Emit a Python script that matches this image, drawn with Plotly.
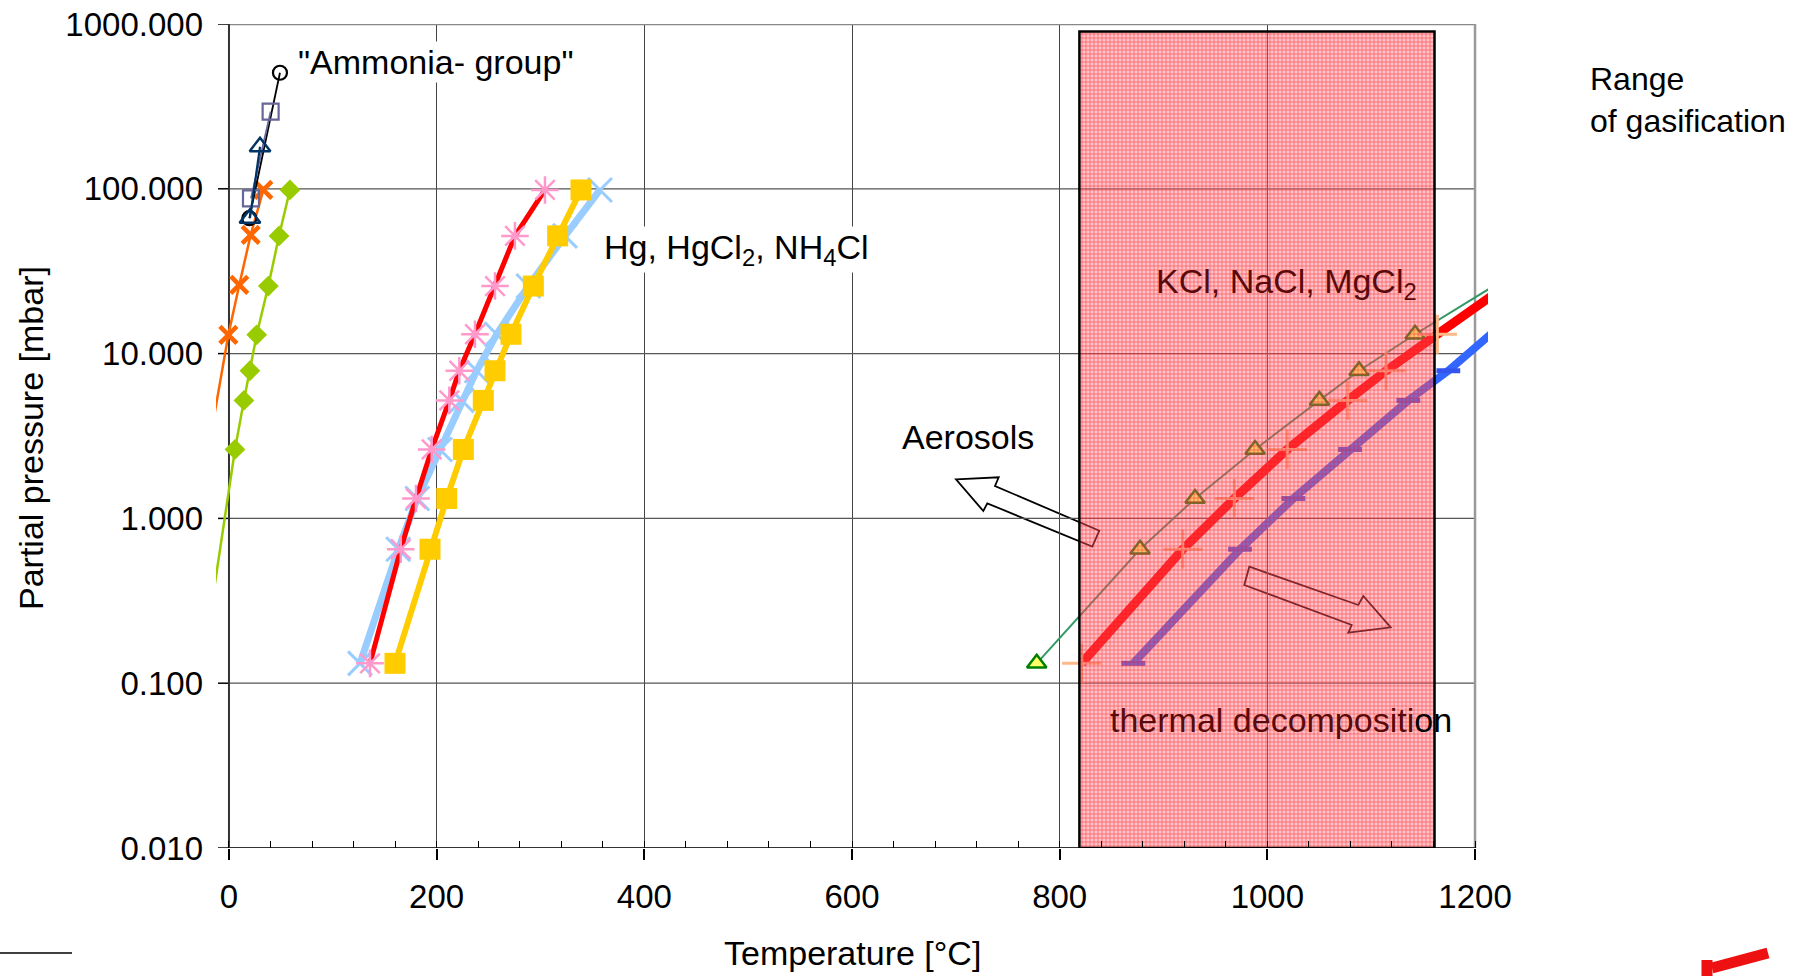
import plotly.graph_objects as go

# ---------------- data (temperature in °C, partial pressure in mbar) ----------------
# "Ammonia- group"
amm_circle_T = [19.6, 49.1]
amm_circle_P = [66.3, 506]
amm_square_T = [21.2, 40.1]
amm_square_P = [87.5, 294]
amm_tri_T = [20.2, 29.9]
amm_tri_P = [66.3, 180]
amm_orange_T = [-24.0, -0.6, 9.9, 20.9, 33.1]
amm_orange_P = [1.87, 13.0, 26.1, 52.5, 98.4]
amm_green_T = [-26.0, 5.8, 14.4, 20.2, 26.7, 37.9, 48.2, 58.7]
amm_green_P = [0.12, 2.62, 5.2, 7.87, 13.0, 25.7, 51.8, 98.4]

# Hg, HgCl2, NH4Cl
hg_P = [0.132, 0.65, 1.32, 2.62, 5.2, 7.87, 13.1, 25.7, 51.8, 98.4]
hg_red_T = [135.8, 165.4, 180.1, 195.2, 212.2, 221.8, 236.9, 256.2, 275.4, 304.3]
hg_blue_T = [126.2, 163.0, 181.4, 203.2, 224.1, 238.5, 257.8, 288.3, 323.6, 357.3]
hg_gold_T = [159.9, 193.6, 209.7, 225.7, 244.9, 256.2, 271.6, 293.1, 316.5, 339.0]

# KCl, NaCl, MgCl2
salt_green_T = [777.9, 877.4, 930.4, 988.2, 1050.1, 1088.3, 1142.3, 1240.0]
salt_green_P = [0.132, 0.65, 1.32, 2.62, 5.2, 7.87, 13.1, 31.3]
salt_red_T = [821.2, 918.5, 968.2, 1019.2, 1077.4, 1114.3, 1163.7, 1245.0]
salt_red_P = [0.132, 0.65, 1.32, 2.62, 5.2, 7.87, 13.1, 30.2]
salt_blue_T = [870.9, 973.7, 1025.0, 1079.6, 1135.8, 1174.3, 1235.0]
salt_blue_P = [0.132, 0.65, 1.32, 2.62, 5.2, 7.87, 16.8]

# range of gasification
gasif_T = [819, 1161]
gasif_P = [0.01, 900]

x_ticks = [0, 200, 400, 600, 800, 1000, 1200]
y_ticks = [0.01, 0.1, 1, 10, 100, 1000]

# ---------------- layout geometry ----------------
W, H = 1804, 976
L, R, T, B = 216, 1488, 24, 848
XMIN, XMAX = -12.5, 1212.5


def pp(px, py):
    """pixel -> paper coordinates"""
    return (px - L) / (R - L), (B - py) / (B - T)


def path(points):
    s = ""
    for i, (px, py) in enumerate(points):
        x, y = pp(px, py)
        s += ("M" if i == 0 else "L") + f"{x:.5f},{y:.5f} "
    return s + "Z"


FONT = "Liberation Sans, Arial, sans-serif"

fig = go.Figure()


def add(x, y, color, lw, symbol, msize, mcolor=None, mlw=0, mfill=None):
    mcolor = mcolor or color
    marker = dict(symbol=symbol, size=msize, color=mfill if mfill else mcolor,
                  line=dict(color=mcolor, width=mlw))
    fig.add_trace(go.Scatter(x=x, y=y, mode="lines+markers",
                             line=dict(color=color, width=lw),
                             marker=marker, showlegend=False, hoverinfo="skip"))


# ammonia group
add(amm_green_T, amm_green_P, "#99CC00", 2.5, "diamond", 16)
add(amm_orange_T, amm_orange_P, "#FF6600", 2.5, "x-thin-open", 17, mlw=4.5)
add(amm_circle_T, amm_circle_P, "#000000", 1.8, "circle-open", 14, mlw=2.2)
add(amm_square_T, amm_square_P, "#666699", 1.8, "square-open", 16, mlw=2.2)
add(amm_tri_T, amm_tri_P, "#003366", 2.2, "triangle-up-open", 18, mlw=2.5)

# Hg group
add(hg_blue_T, hg_P, "#99CCFF", 7, "x-thin-open", 24, mlw=3)
add(hg_gold_T, hg_P, "#FFCC00", 6, "square", 21)
add(hg_red_T, hg_P, "#FF0000", 5, "asterisk-open", 23, mcolor="#FF99CC", mlw=2.5)

# salts
add(salt_green_T, salt_green_P, "#339966", 2, "triangle-up", 17, mcolor="#008000", mlw=2.5, mfill="#FFFF66")
add(salt_red_T, salt_red_P, "#FF0000", 9, "cross-thin-open", 28, mcolor="#FFB888", mlw=3)
add(salt_blue_T, salt_blue_P, "#3366FF", 8, "line-ew-open", 17, mcolor="#3355EE", mlw=5)

# range of gasification (hatched, semi-transparent, drawn on top)
fig.add_trace(go.Scatter(
    x=[gasif_T[0], gasif_T[1], gasif_T[1], gasif_T[0], gasif_T[0]],
    y=[gasif_P[0], gasif_P[0], gasif_P[1], gasif_P[1], gasif_P[0]],
    mode="lines", line=dict(color="#000000", width=2.5),
    fill="toself", fillcolor="rgba(248,100,115,0.45)",
    fillpattern=dict(shape="+", size=4, solidity=0.3, fillmode="replace",
                     bgcolor="rgba(248,110,125,0.42)", fgcolor="rgba(255,0,0,0.6)"),
    showlegend=False, hoverinfo="skip"))

shapes = []
# horizontal gridlines and y ticks
for v in y_ticks:
    if 0.01 < v < 1000:
        shapes.append(dict(type="line", xref="x", yref="y", x0=0, x1=1200, y0=v, y1=v,
                           line=dict(color="#555555", width=1.2), layer="between"))
    shapes.append(dict(type="line", xref="x", yref="y", x0=-10.6, x1=0, y0=v, y1=v,
                       line=dict(color="#000000", width=1.5), layer="between"))
# frame
shapes.append(dict(type="line", xref="x", yref="y", x0=0, x1=1200, y0=1000, y1=1000,
                   line=dict(color="#888888", width=2.5), layer="between"))
shapes.append(dict(type="line", xref="x", yref="y", x0=1200, x1=1200, y0=0.01, y1=1000,
                   line=dict(color="#999999", width=2.5), layer="between"))
shapes.append(dict(type="line", xref="x", yref="y", x0=0, x1=1200, y0=0.01, y1=0.01,
                   line=dict(color="#333333", width=2), layer="between"))
shapes.append(dict(type="line", xref="x", yref="y", x0=0, x1=0, y0=0.01, y1=1000,
                   line=dict(color="#333333", width=2), layer="between"))
# white text boxes (under the hatched range)
for (x0, y0, x1, y1) in [(1150, 257, 1425, 317), (1100, 695, 1478, 750)]:
    a0 = pp(x0, y1)
    a1 = pp(x1, y0)
    shapes.append(dict(type="rect", xref="paper", yref="paper", x0=a0[0], y0=a0[1], x1=a1[0], y1=a1[1],
                       fillcolor="white", line=dict(width=0), layer="between"))
# block arrows
aerosol_arrow = [(956, 479.3), (998.7, 477.3), (995, 486), (1099.3, 530.7), (1092.3, 546.7),
                 (987.3, 503.3), (983.3, 511)]
thermal_arrow = [(1249.3, 566.7), (1358.3, 605), (1363.3, 596), (1390.7, 627.3), (1348.3, 632.7),
                 (1351.7, 625), (1244.3, 585)]
for arr in (aerosol_arrow, thermal_arrow):
    shapes.append(dict(type="path", xref="paper", yref="paper", path=path(arr),
                       fillcolor="white", line=dict(color="#000000", width=1.8), layer="between"))
# small decorations outside the chart
a0, a1 = pp(0, 953), pp(72, 953)
shapes.append(dict(type="line", xref="paper", yref="paper", x0=a0[0], y0=a0[1], x1=a1[0], y1=a1[1],
                   line=dict(color="#000000", width=1.5)))
a0, a1 = pp(1707, 960), pp(1707, 980)
shapes.append(dict(type="line", xref="paper", yref="paper", x0=a0[0], y0=a0[1], x1=a1[0], y1=a1[1],
                   line=dict(color="#EE1111", width=11)))
a0, a1 = pp(1712, 968), pp(1768, 953)
shapes.append(dict(type="line", xref="paper", yref="paper", x0=a0[0], y0=a0[1], x1=a1[0], y1=a1[1],
                   line=dict(color="#EE1111", width=11)))

annotations = []


def note(text, px, py, size=34, color="#000000", bg=None, xanchor="left", angle=0):
    x, y = pp(px, py)
    d = dict(text=text, x=x, y=y, xref="paper", yref="paper", showarrow=False,
             xanchor=xanchor, yanchor="middle", textangle=angle, align="left",
             font=dict(family=FONT, size=size, color=color))
    if bg:
        d["bgcolor"] = bg
    annotations.append(d)


note('"Ammonia- group"', 296, 62, bg="white")
note("Hg, HgCl<sub>2</sub>, NH<sub>4</sub>Cl", 602, 249, bg="white")
note("KCl, NaCl, MgCl<sub>2</sub>", 1154, 283, color="#5a0a0a")
note("thermal decompositi<span style='color:#000000'>on</span>", 1108, 720, color="#5a0a0a")
note("Aerosols", 900, 437)
note("Range<br>of gasification", 1588, 100, size=32)
note("Partial pressure [mbar]", 31, 438, xanchor="center", angle=-90)
note("Temperature [°C]", 852, 953, xanchor="center")

fig.update_layout(
    width=W, height=H,
    margin=dict(l=L, r=W - R, t=T, b=H - B, pad=0, autoexpand=False),
    paper_bgcolor="white", plot_bgcolor="white",
    font=dict(family=FONT, size=33, color="#000000"),
    shapes=shapes, annotations=annotations,
    xaxis=dict(range=[XMIN, XMAX], tickvals=x_ticks, ticktext=[str(v) for v in x_ticks],
               automargin=False,
               showgrid=True, gridcolor="#454545", gridwidth=1, zeroline=False, showline=False,
               ticks="outside", ticklen=11, tickwidth=1.5, tickcolor="#000000",
               ticklabelstandoff=8, tickfont=dict(size=33, family=FONT),
               minor=dict(ticks="inside", dtick=40, tick0=0, ticklen=7, tickwidth=1.2,
                          tickcolor="#000000", showgrid=False)),
    yaxis=dict(type="log", range=[-2, 3], tickvals=y_ticks, tickformat=".3f",
               automargin=False,
               showgrid=False, zeroline=False, showline=False, ticks="",
               ticklabelstandoff=12, tickfont=dict(size=33, family=FONT)),
)

post = ("document.body.style.margin='0px';document.body.style.overflow='hidden';"
        "var gd=document.getElementById('{plot_id}');gd.style.position='fixed';"
        "gd.style.left='0px';gd.style.top='0px';")
fig.write_html("out.html", post_script=post, config={"displayModeBar": False})
